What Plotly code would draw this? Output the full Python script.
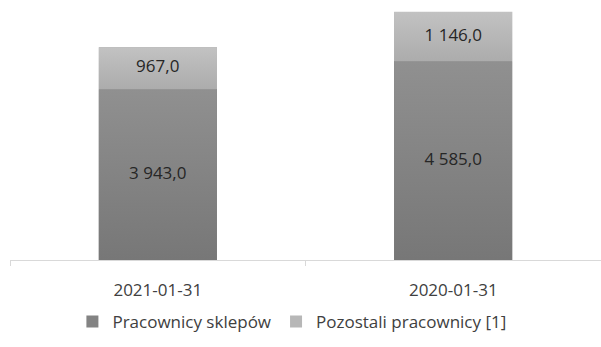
import plotly.graph_objects as go

# Employment by category at two reporting dates
dates = ["2021-01-31", "2020-01-31"]
store_staff = [3943.0, 4585.0]
other_staff = [967.0, 1146.0]
series_names = ["Pracownicy sklepów", "Pozostali pracownicy [1]"]

FONT = "Open Sans"
FONT_SIZE = 17
TEXT_COLOR = "#404040"
BAR_WIDTH = 0.40
# vertical gradients (bottom -> top) for each series, plus a flat base colour
gradients = [
    [[0, "#777777"], [1, "#909090"]],
    [[0, "#acacac"], [1, "#c2c2c2"]],
]
flat_colors = ["#838383", "#b7b7b7"]

fig = go.Figure()
positions = list(range(len(dates)))
series = [store_staff, other_staff]

# stacked bars (flat colour, also provide the legend swatches)
for s_idx, (name, values) in enumerate(zip(series_names, series)):
    fig.add_trace(go.Bar(
        x=positions, y=values, width=BAR_WIDTH, name=name, legendgroup=name,
        marker=dict(color=flat_colors[s_idx], line=dict(width=0)),
        hoverinfo="skip",
    ))

# gradient shading laid over each bar segment
bases = [0.0] * len(dates)
label_x, label_y, label_v = [], [], []
for s_idx, (name, values) in enumerate(zip(series_names, series)):
    for i, v in enumerate(values):
        b = bases[i]
        t = b + v
        x0, x1 = i - BAR_WIDTH / 2, i + BAR_WIDTH / 2
        fig.add_trace(go.Scatter(
            x=[x0, x1, x1, x0, x0], y=[b, b, t, t, b],
            mode="lines", fill="toself",
            line=dict(width=0, color="rgba(0,0,0,0)"),
            fillgradient=dict(type="vertical", colorscale=gradients[s_idx]),
            name=name, legendgroup=name, showlegend=False,
            hoverinfo="skip",
        ))
        label_x.append(i)
        label_y.append(b + v / 2)
        label_v.append(v)
        bases[i] = t

# value labels centred in each segment
fig.add_trace(go.Scatter(
    x=label_x, y=label_y, customdata=label_v, mode="text",
    texttemplate="%{customdata:,.1f}", textposition="middle center",
    textfont=dict(family=FONT, size=FONT_SIZE, color="#262626"),
    showlegend=False, hoverinfo="skip",
))

fig.update_layout(
    width=601, height=347,
    margin=dict(l=10, r=0, t=0, b=87),
    barmode="stack",
    separators=", ",
    plot_bgcolor="white", paper_bgcolor="white",
    font=dict(family=FONT, size=FONT_SIZE, color=TEXT_COLOR),
    showlegend=True,
    legend=dict(
        orientation="h", x=0.477, xanchor="center", y=-0.238, yanchor="middle",
        font=dict(family=FONT, size=FONT_SIZE, color=TEXT_COLOR),
        itemwidth=30, traceorder="normal",
    ),
)
fig.update_xaxes(
    range=[-0.5, len(dates) - 0.5], tickmode="array",
    tickvals=positions, ticktext=dates, ticks="",
    showline=True, linecolor="#d9d9d9", linewidth=1,
    minor=dict(tickmode="array", tickvals=[k - 0.5 for k in range(len(dates) + 1)],
               ticks="outside", ticklen=5, tickcolor="#d9d9d9", showgrid=False),
    ticklabelstandoff=15, showgrid=False, zeroline=False,
    tickfont=dict(family=FONT, size=FONT_SIZE, color=TEXT_COLOR),
)
fig.update_yaxes(range=[0, 6000], visible=False, showgrid=False, zeroline=False)

fig.write_html("out.html")
